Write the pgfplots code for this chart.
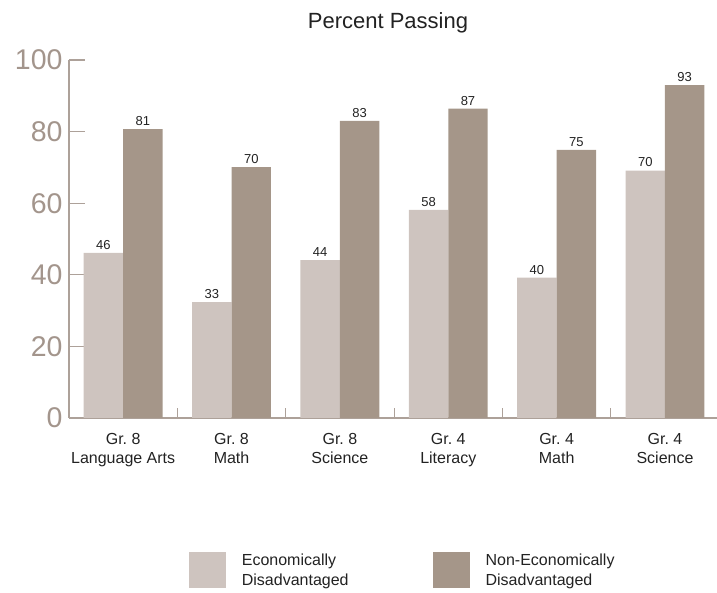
\documentclass[border=0pt]{standalone}
\usepackage{pgfplots}
\pgfplotsset{compat=1.18}
\usepackage{fontspec}
\setmainfont{Liberation Sans}

\definecolor{lightbar}{HTML}{CEC4BF}
\definecolor{darkbar}{HTML}{A59689}
\definecolor{axisgray}{HTML}{ADA199}
\definecolor{ticktext}{HTML}{A3958C}
\definecolor{labeltext}{HTML}{222222}

\begin{document}
\begin{tikzpicture}
\useasboundingbox (0,0) rectangle (717bp,593bp);
\node[font=\fontsize{22bp}{26bp}\selectfont, text=labeltext] at (388bp,570bp) {Percent Passing};
\begin{axis}[
    at={(69bp,175bp)}, anchor=south west,
    width=648bp, height=358bp, scale only axis,
    ybar, bar width=0.364,
    xmin=-0.5, xmax=5.48, ymin=0, ymax=100,
    axis x line*=bottom, axis y line*=left,
    axis line style={axisgray, line width=1.2bp, -},
    xtick={0,...,5},
    xticklabels={{Gr.\ 8\\Language Arts},{Gr.\ 8\\Math},{Gr.\ 8\\Science},{Gr.\ 4\\Literacy},{Gr.\ 4\\Math},{Gr.\ 4\\Science}},
    x tick label style={align=center, font=\fontsize{16bp}{19bp}\selectfont, text=labeltext, yshift=-12bp},
    major x tick style={draw=none},
    minor xtick={0.5,1.5,2.5,3.5,4.5},
    minor tick length=10bp,
    minor x tick style={axisgray, line width=1bp},
    ytick={0,20,...,100},
    y tick label style={font=\fontsize{28.5bp}{30bp}\selectfont, text=ticktext, xshift=-3bp},
    /pgf/number format/assume math mode=true,
    tick align=inside,
    major tick length=16bp,
    y tick style={axisgray, line width=1.2bp},
    point meta=explicit symbolic,
    nodes near coords,
    every node near coord/.append style={font=\fontsize{13bp}{15bp}\selectfont, text=labeltext},
    legend style={at={(0.515,-0.425)}, anchor=center, draw=none, fill=none,
        legend columns=2, font=\fontsize{16bp}{20bp}\selectfont, text=labeltext,
        /tikz/every odd column/.append style={column sep=14bp},
        /tikz/every even column/.append style={column sep=82bp},
        cells={align=left}},
    legend image code/.code={\fill[#1] (0bp,-18bp) rectangle (37bp,18bp);},
]
    % economically disadvantaged
    \addplot[fill=lightbar, draw=none, bar shift=-0.182] coordinates {
        (0,46.1) [46]
        (1,32.4) [33]
        (2,44.1) [44]
        (3,58.1) [58]
        (4,39.2) [40]
        (5,69.1) [70]
    };
    \addlegendentry{Economically\\Disadvantaged}

    % non-economically disadvantaged
    \addplot[fill=darkbar, draw=none, bar shift=0.182] coordinates {
        (0,80.7) [81]
        (1,70.1) [70]
        (2,83.0) [83]
        (3,86.4) [87]
        (4,74.9) [75]
        (5,93.0) [93]
    };
    \addlegendentry{Non-Economically\\Disadvantaged}
\end{axis}
\end{tikzpicture}
\end{document}
